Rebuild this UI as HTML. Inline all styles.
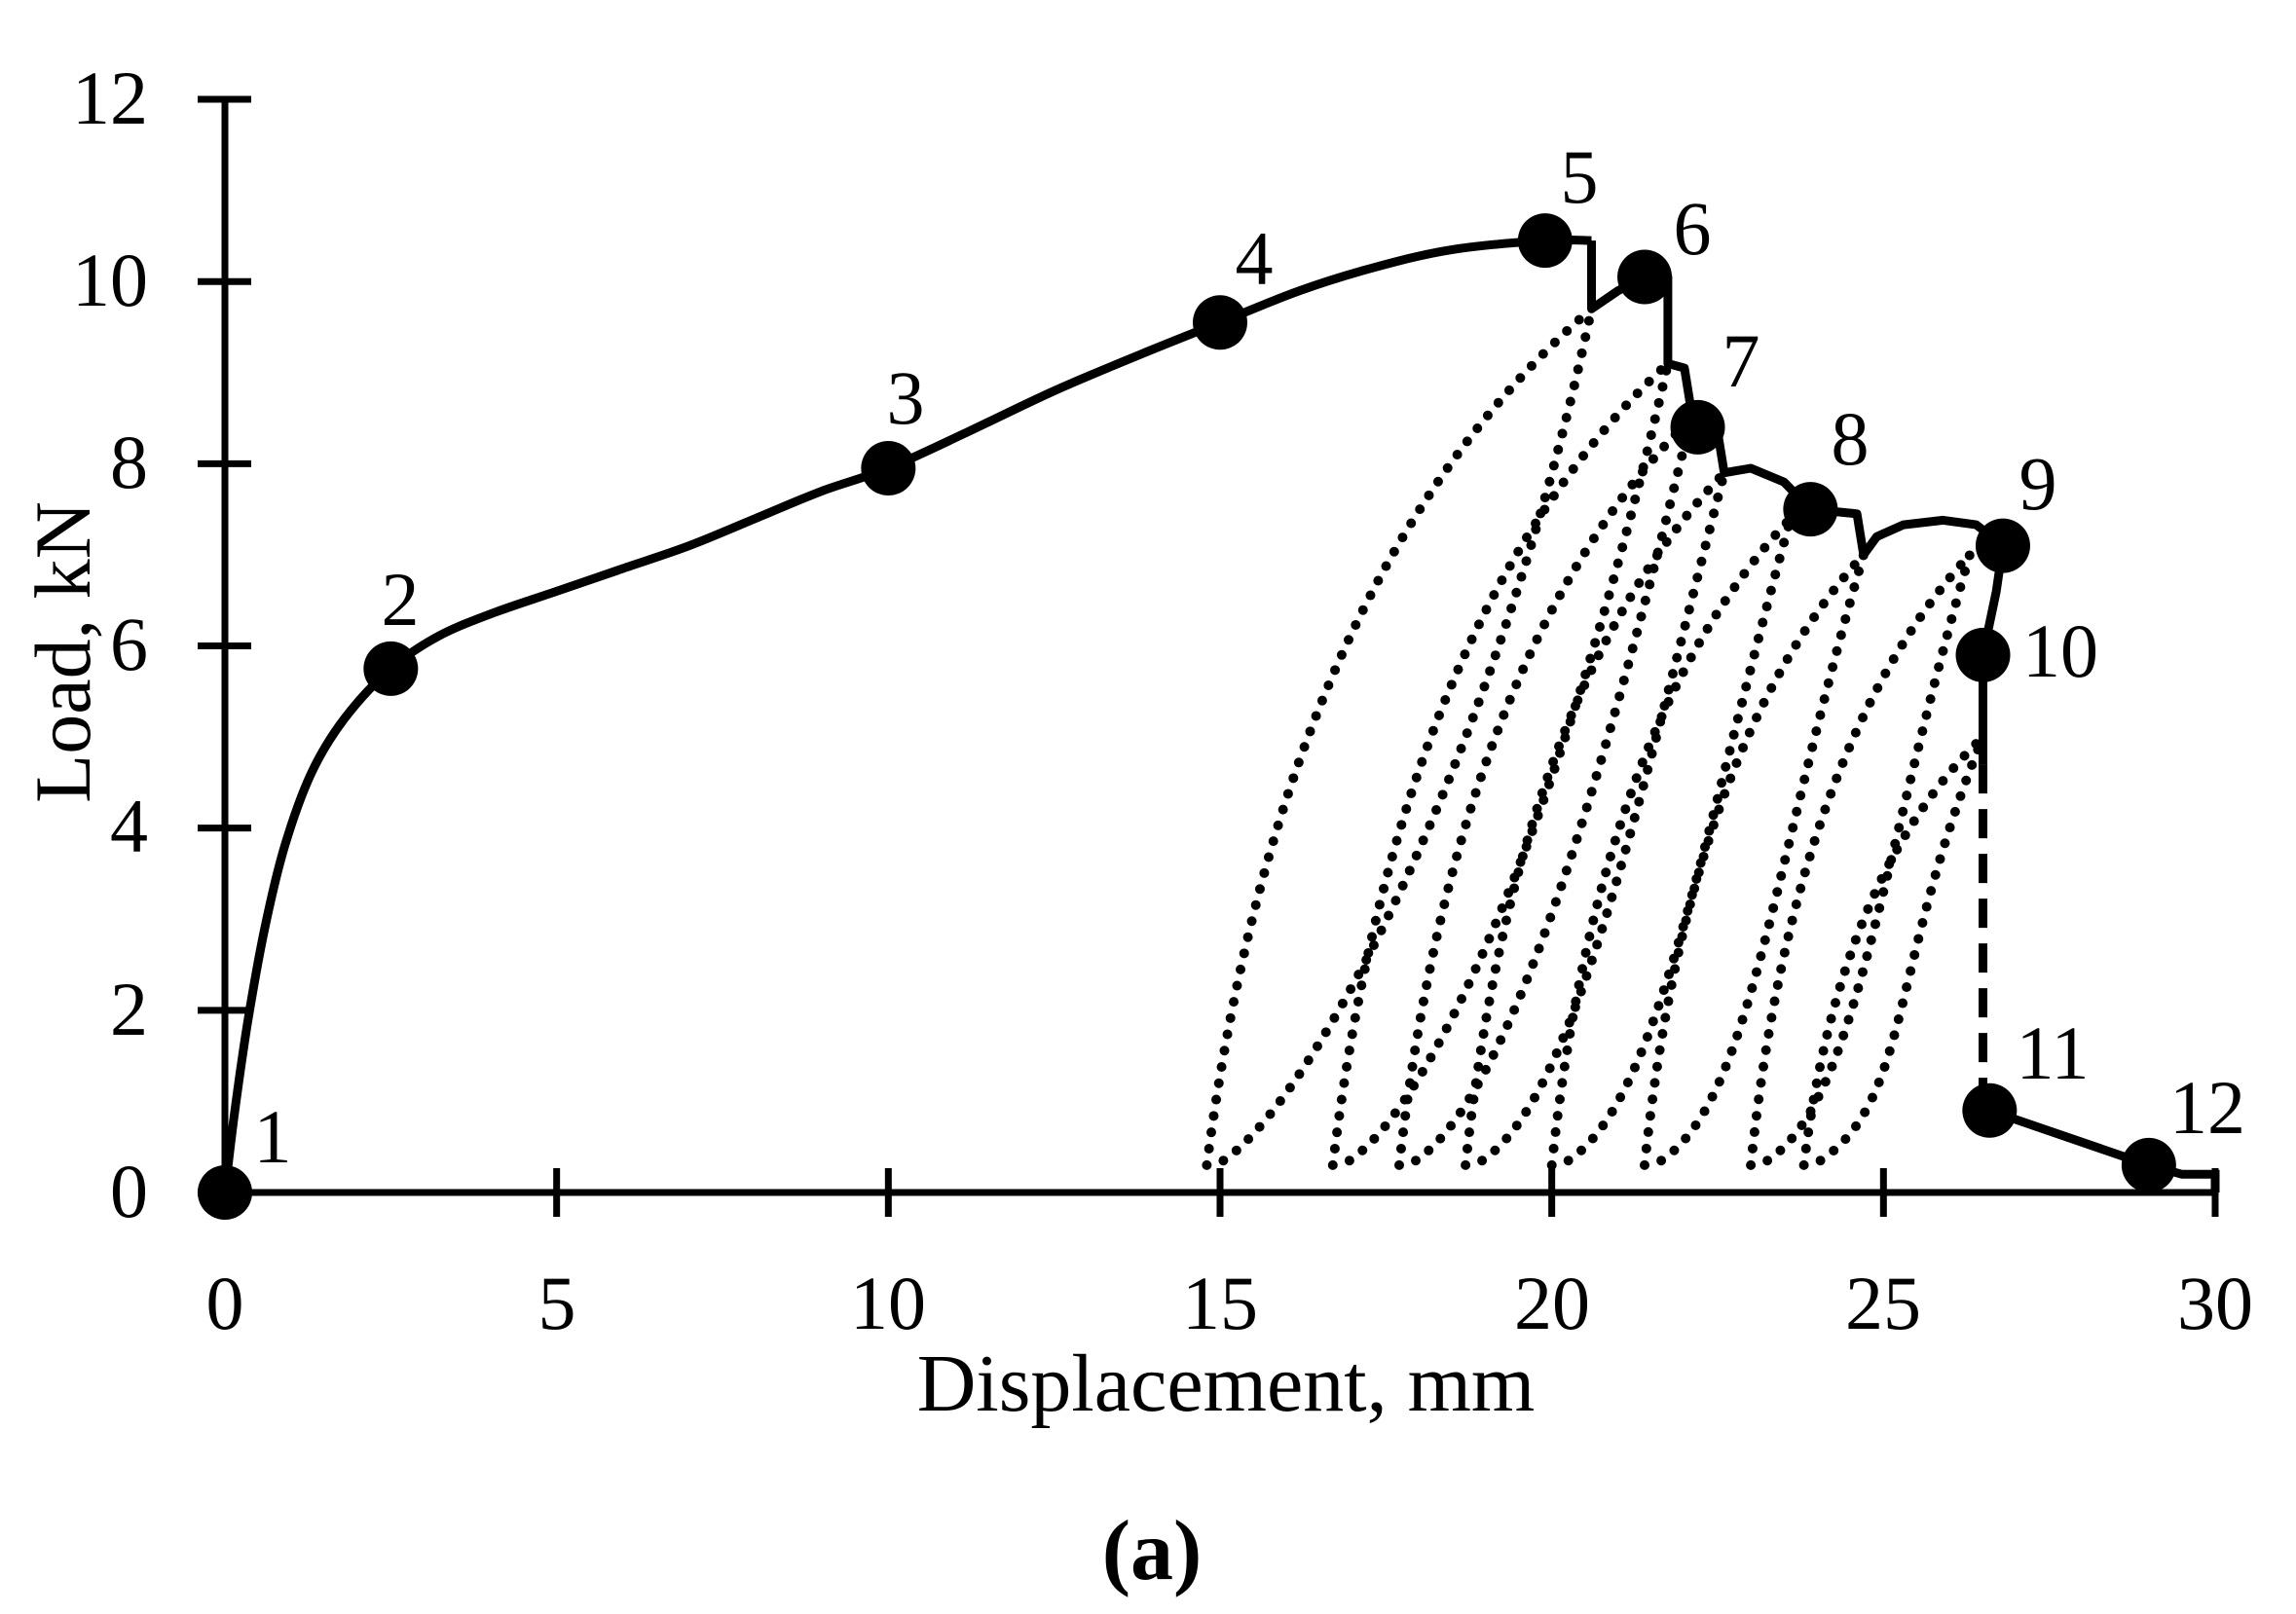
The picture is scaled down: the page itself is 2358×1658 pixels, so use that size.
<!DOCTYPE html>
<html><head><meta charset="utf-8"><style>
html,body{margin:0;padding:0;background:#fff}
svg{display:block}
text{font-family:"Liberation Serif",serif;fill:#000}
</style></head><body>
<svg id="s" width="2358" height="1658" viewBox="0 0 2358 1658" xmlns="http://www.w3.org/2000/svg">
<g id="g"></g>
<g font-size="78">
<text x="152" y="127" text-anchor="end">12</text>
<text x="152" y="314" text-anchor="end">10</text>
<text x="152" y="501" text-anchor="end">8</text>
<text x="152" y="688" text-anchor="end">6</text>
<text x="152" y="875" text-anchor="end">4</text>
<text x="152" y="1063" text-anchor="end">2</text>
<text x="152" y="1250" text-anchor="end">0</text>
<text x="231" y="1365" text-anchor="middle">0</text>
<text x="572" y="1365" text-anchor="middle">5</text>
<text x="912" y="1365" text-anchor="middle">10</text>
<text x="1253" y="1365" text-anchor="middle">15</text>
<text x="1594" y="1365" text-anchor="middle">20</text>
<text x="1934" y="1365" text-anchor="middle">25</text>
<text x="2275" y="1365" text-anchor="middle">30</text>
<text x="1259" y="1449" text-anchor="middle" font-size="84">Displacement, mm</text>
<text transform="translate(92,670) rotate(-90)" text-anchor="middle" font-size="82">Load, kN</text>
<text x="280" y="1194" text-anchor="middle">1</text>
<text x="411" y="642" text-anchor="middle">2</text>
<text x="930" y="435" text-anchor="middle">3</text>
<text x="1288" y="292" text-anchor="middle">4</text>
<text x="1622" y="208" text-anchor="middle">5</text>
<text x="1738" y="261" text-anchor="middle">6</text>
<text x="1788" y="397" text-anchor="middle">7</text>
<text x="1900" y="477" text-anchor="middle">8</text>
<text x="2093" y="523" text-anchor="middle">9</text>
<text x="2116" y="695" text-anchor="middle">10</text>
<text x="2108" y="1108" text-anchor="middle">11</text>
<text x="2267" y="1164" text-anchor="middle">12</text>
<text x="1183" y="1622" text-anchor="middle" font-weight="bold" font-size="88">(a)</text>
</g>
</svg>
<script>
var X=function(x){return 231+x*68.133},Y=function(y){return 1225-y*93.58};
var g=document.getElementById('g'),h='';
function P(a){return a.map(function(p){return X(p[0]).toFixed(1)+','+Y(p[1]).toFixed(1)}).join(' ')}
function smooth(a){var p=a.map(function(q){return [X(q[0]),Y(q[1])]});var d='M'+p[0][0]+','+p[0][1];
 for(var i=0;i<p.length-1;i++){var p0=p[i-1]||p[i],p1=p[i],p2=p[i+1],p3=p[i+2]||p2;
 d+=' C'+(p1[0]+(p2[0]-p0[0])/6).toFixed(1)+','+(p1[1]+(p2[1]-p0[1])/6).toFixed(1)+' '+(p2[0]-(p3[0]-p1[0])/6).toFixed(1)+','+(p2[1]-(p3[1]-p1[1])/6).toFixed(1)+' '+p2[0].toFixed(1)+','+p2[1].toFixed(1);}
 return d;}
h+='<line x1="231" y1="102" x2="231" y2="1225" stroke="#000" stroke-width="7"/>';
h+='<line x1="228" y1="1225" x2="2278" y2="1225" stroke="#000" stroke-width="7"/>';
for(var i=0;i<=12;i+=2)h+='<line x1="203" x2="258" y1="'+Y(i)+'" y2="'+Y(i)+'" stroke="#000" stroke-width="7"/>';
for(var i=5;i<=30;i+=5)h+='<line y1="1200" y2="1250" x1="'+X(i)+'" x2="'+X(i)+'" stroke="#000" stroke-width="7"/>';
var L=[[14.8,20.6,9.7],[16.7,21.75,9.1],[17.7,22.1,8.5],[18.7,22.6,7.9],[20.0,23.6,7.4],[21.4,24.7,7.0],[23.0,26.3,7.0],[23.8,26.5,5.0]];
L.forEach(function(l){var s=l[0],px=l[1],py=l[2];
 var d1='M'+P([[s,0.3]])+' Q'+P([[s+0.2*(px-s),py*0.7],[px,py]]);
 var d2='M'+P([[s+0.25,0.35]])+' C'+P([[s+1.6,1.0],[px-1.4,py*0.5],[px,py]]);
 h+='<path d="'+d1+'" fill="none" stroke="#000" stroke-width="10" stroke-linecap="round" stroke-dasharray="0 17"/>';
 h+='<path d="'+d2+'" fill="none" stroke="#000" stroke-width="10" stroke-linecap="round" stroke-dasharray="0 17"/>';
});
var c1=[[0,0],[0.15,0.9],[0.35,1.9],[0.6,2.9],[0.9,3.8],[1.3,4.6],[1.8,5.2],[2.5,5.75],[3.2,6.1],[4,6.35],[5,6.6],[6,6.85],[7,7.1],[8,7.4],[9,7.7],[10,7.95],[11.2,8.35],[12.5,8.8],[13.8,9.2],[15,9.55],[16.2,9.9],[17.3,10.15],[18.5,10.35],[19.9,10.45],[20.6,10.45]];
h+='<path d="'+smooth(c1)+'" fill="none" stroke="#000" stroke-width="9" stroke-linejoin="round"/>';
var c=[[20.6,10.45],[20.6,9.7],[21.0,9.9],[21.4,10.05],[21.75,10.05],[21.75,9.1],[22.0,9.05],[22.1,8.6],[22.2,8.4],[22.5,8.35],[22.6,7.9],[23.0,7.95],[23.5,7.8],[23.9,7.5],[24.6,7.45],[24.7,7.0],[24.9,7.2],[25.3,7.33],[25.9,7.38],[26.4,7.33],[26.8,7.1],[26.7,6.6],[26.5,5.9],[26.5,4.7]];
h+='<polyline points="'+P(c)+'" fill="none" stroke="#000" stroke-width="9" stroke-linejoin="round"/>';
h+='<line x1="'+X(26.5)+'" y1="'+Y(4.7)+'" x2="'+X(26.5)+'" y2="'+Y(0.9)+'" stroke="#000" stroke-width="9" stroke-dasharray="30 16"/>';
h+='<polyline points="'+P([[26.6,0.9],[29,0.3],[29.5,0.2],[30,0.2],[30,0]])+'" fill="none" stroke="#000" stroke-width="9"/>';
var m=[[0,0],[2.5,5.75],[10,7.95],[15,9.55],[19.9,10.45],[21.4,10.05],[22.2,8.4],[23.9,7.5],[26.8,7.1],[26.5,5.9],[26.6,0.9],[29,0.3]];
m.forEach(function(p){h+='<circle cx="'+X(p[0])+'" cy="'+Y(p[1])+'" r="28" fill="#000"/>'});
g.innerHTML=h;
</script>
</body></html>
